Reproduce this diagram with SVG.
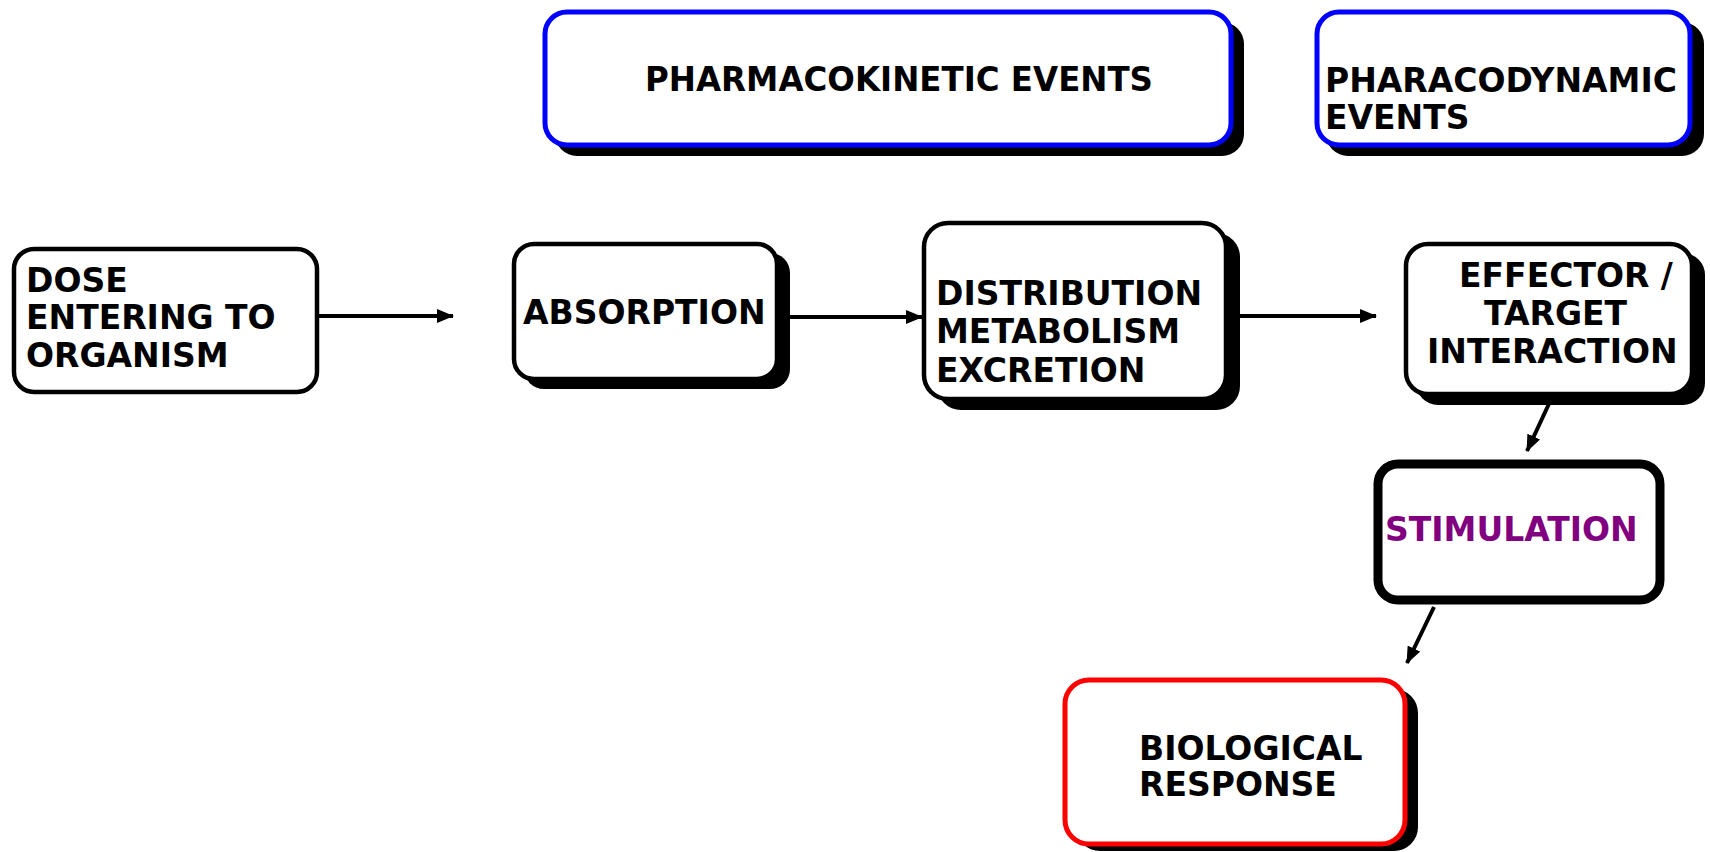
<svg xmlns="http://www.w3.org/2000/svg" width="1710" height="852" viewBox="0 0 1710 852">
<style>
.box{fill:#fff;stroke:#000;stroke-width:4.5}
.blue{fill:#fff;stroke:#0000ff;stroke-width:5}
.red{fill:#fff;stroke:#ff0000;stroke-width:5}
.thick{fill:#fff;stroke:#000;stroke-width:9}
.sh{fill:#000}
.t{font-family:"DejaVu Sans","Verdana",sans-serif;font-weight:bold;font-size:33px;fill:#000}
.purple{fill:#800080}
.c{stroke:#000;stroke-width:4;fill:none;marker-end:url(#ah)}
</style>
<defs>
<marker id="ah" markerUnits="userSpaceOnUse" markerWidth="18" markerHeight="14" refX="16" refY="7" orient="auto">
<path d="M0,0 L17,7 L0,14 Z" fill="#000"/>
</marker>
</defs>
<rect width="1710" height="852" fill="#fff"/>
<g id="pk-events">
<rect class="sh" x="555" y="22" width="689" height="134" rx="22"/>
<rect class="blue" x="545" y="12" width="686" height="133" rx="22"/>
<text class="t" x="645" y="91" textLength="508" lengthAdjust="spacingAndGlyphs">PHARMACOKINETIC EVENTS</text>
</g>
<g id="pd-events">
<rect class="sh" x="1326" y="22" width="378" height="134" rx="22"/>
<rect class="blue" x="1317" y="12" width="373" height="133" rx="22"/>
<text class="t" x="1325" y="92">PHARACODYNAMIC</text>
<text class="t" x="1325" y="129">EVENTS</text>
</g>
<g id="dose">
<rect class="box" x="14" y="249" width="303" height="143" rx="20"/>
<text class="t" x="26" y="292">DOSE</text>
<text class="t" x="26" y="329">ENTERING TO</text>
<text class="t" x="26" y="367">ORGANISM</text>
</g>
<g id="absorption">
<rect class="sh" x="524" y="253" width="266" height="136" rx="20"/>
<rect class="box" x="514" y="244" width="263" height="135" rx="20"/>
<text class="t" x="523" y="324">ABSORPTION</text>
</g>
<g id="dme">
<rect class="sh" x="937" y="233" width="303" height="177" rx="24"/>
<rect class="box" x="924" y="223" width="302" height="176" rx="24"/>
<text class="t" x="936" y="305">DISTRIBUTION</text>
<text class="t" x="936" y="343">METABOLISM</text>
<text class="t" x="936" y="382">EXCRETION</text>
</g>
<g id="effector">
<rect class="sh" x="1416" y="253" width="289" height="152" rx="22"/>
<rect class="box" x="1406" y="244" width="286" height="150" rx="22"/>
<text class="t" x="1459" y="287">EFFECTOR /</text>
<text class="t" x="1484" y="325">TARGET</text>
<text class="t" x="1427" y="363">INTERACTION</text>
</g>
<g id="stimulation">
<rect class="thick" x="1378" y="464" width="282" height="136" rx="20"/>
<text class="t purple" x="1385" y="541">STIMULATION</text>
</g>
<g id="response">
<rect class="sh" x="1076" y="689" width="342" height="162" rx="24"/>
<rect class="red" x="1065" y="680" width="340" height="164" rx="24"/>
<text class="t" x="1139" y="760">BIOLOGICAL</text>
<text class="t" x="1139" y="796">RESPONSE</text>
</g>
<g id="connectors">
<line class="c" x1="317" y1="316" x2="453" y2="316"/>
<line class="c" x1="790" y1="317" x2="922" y2="317"/>
<line class="c" x1="1240" y1="316" x2="1376" y2="316"/>
<line class="c" x1="1554" y1="393" x2="1527" y2="451"/>
<line class="c" x1="1434" y1="607" x2="1407" y2="663"/>
</g>
</svg>
